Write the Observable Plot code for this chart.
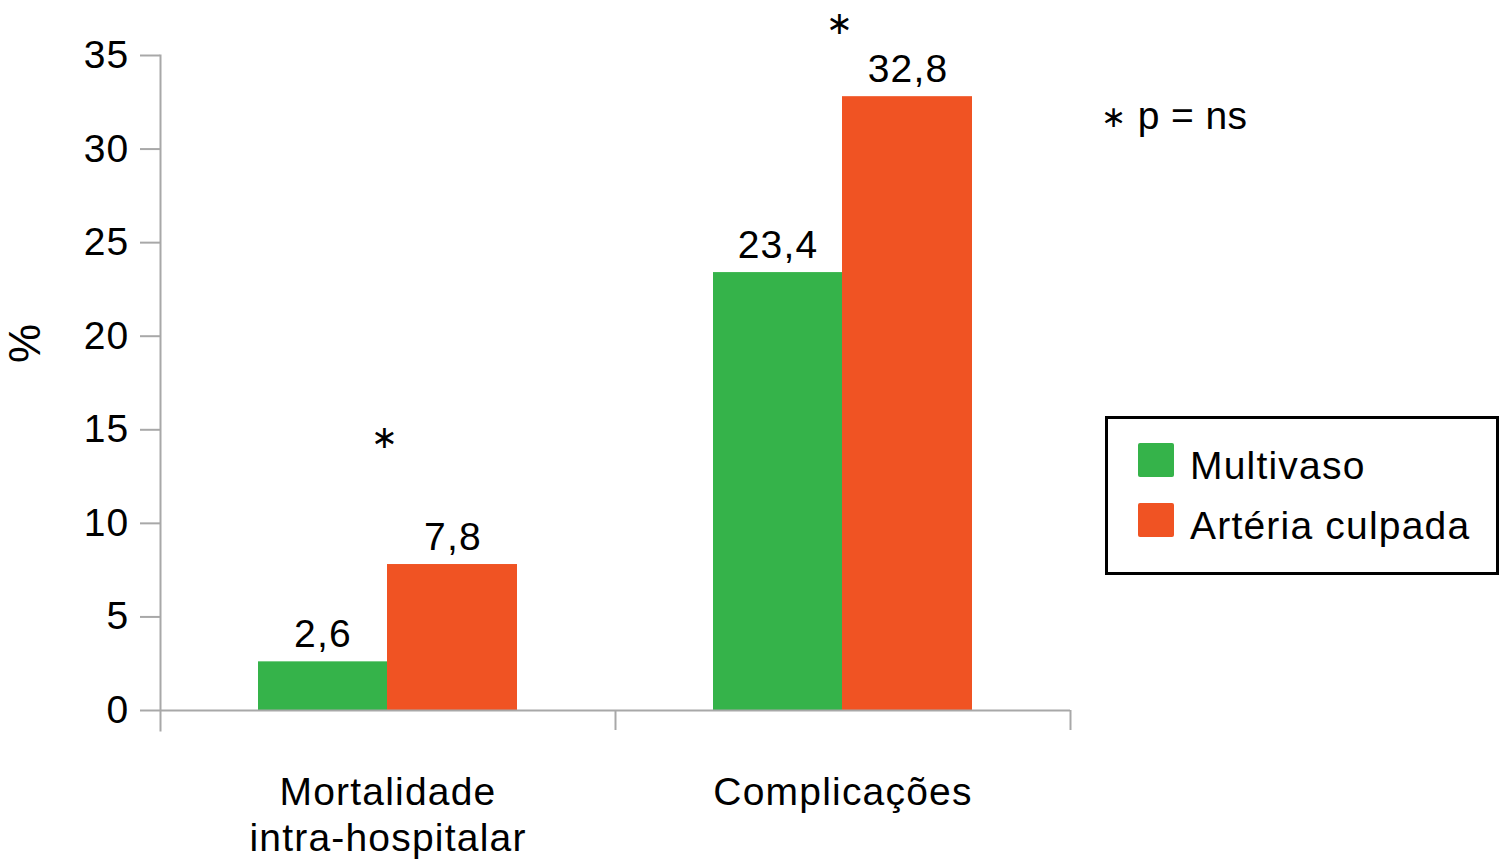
<!DOCTYPE html>
<html>
<head>
<meta charset="utf-8">
<script src="https://cdn.jsdelivr.net/npm/d3@7"></script>
<script src="https://cdn.jsdelivr.net/npm/@observablehq/plot@0.6"></script>
<style>
  html, body { margin: 0; padding: 0; background: #fff; }
  #wrap { position: relative; width: 1502px; height: 861px; font-family: "Liberation Sans", Arial, sans-serif; }
  #wrap svg { display: block; }
  #wrap svg text { letter-spacing: 1.2px; }
  .legend { position: absolute; left: 1105px; top: 416px; width: 394px; height: 159px; box-sizing: border-box; border: 3px solid #000; padding: 24px 0 0 30px; }
  .legend .row { display: flex; align-items: center; height: 34px; margin-bottom: 26px; }
  .legend .sw { width: 36px; height: 34px; border-radius: 2px; margin-right: 16px; }
  .legend .lab { font-size: 39px; letter-spacing: 1.2px; line-height: 34px; position: relative; top: 6px; color: #000; white-space: nowrap; }
  .note { position: absolute; left: 1101px; top: 98px; font-size: 39px; letter-spacing: 0.4px; line-height: 36px; color: #000; white-space: nowrap; }
  .note .ast { font-size: 30px; position: relative; top: -2px; }
</style>
</head>
<body>
<div id="wrap"></div>
<script>
// ---- data ----
const categories = ["Mortalidade\nintra-hospitalar", "Complicações"];
const seriesNames = ["Multivaso", "Artéria culpada"];
const multivaso = [2.6, 23.4];
const arteriaCulpada = [7.8, 32.8];
const asteriskLevels = [14.6, 36.7];
const yTicks = [0, 5, 10, 15, 20, 25, 30, 35];
const colors = ["#35b34a", "#f05323"];
const noteMark = "∗";
const noteText = " p = ns";
const yLabel = "%";

const fmt = v => String(v).replace(".", ",");
const seriesValues = [multivaso, arteriaCulpada];
const rows = [];
seriesNames.forEach((s, si) => categories.forEach((c, ci) => rows.push({category: c, series: s, value: seriesValues[si][ci]})));
const asterisks = categories.map((c, i) => ({category: c, value: asteriskLevels[i]}));

const font = "Liberation Sans, Arial, sans-serif";
const axisGray = "#a8a8a8";
// bar placement inside each category band (pixel insets, band = 455px)
const barInsets = [{insetLeft: 98, insetRight: 228}, {insetLeft: 227, insetRight: 98}];
const labelDx = [-65, 65];

const marks = [];
seriesNames.forEach((s, si) => {
  const data = rows.filter(d => d.series === s);
  marks.push(Plot.barY(data, {x: "category", y: "value", fill: colors[si], ...barInsets[si]}));
  marks.push(Plot.text(data, {x: "category", y: "value", text: d => fmt(d.value), dx: labelDx[si], dy: -15, lineAnchor: "bottom", fontSize: 39, fill: "#000"}));
});

const plot = Plot.plot({
  width: 1502,
  height: 861,
  marginLeft: 160,
  marginRight: 432,
  marginTop: 55,
  marginBottom: 151,
  style: {fontFamily: font, background: "#fff", color: "#000", overflow: "visible"},
  x: {domain: categories, padding: 0},
  y: {domain: [0, 35]},
  marks: [
    ...marks,
    Plot.ruleY([0], {stroke: axisGray, strokeWidth: 2}),
    Plot.frame({anchor: "left", stroke: axisGray, strokeWidth: 2, insetBottom: -20}),
    Plot.ruleX(categories, {x: d => d, y1: 0, y2: 0, insetBottom: -20, dx: 227.5, stroke: axisGray, strokeWidth: 2}),
    Plot.axisY({ticks: yTicks, tickSize: 20, tickPadding: 11, fontSize: 39, stroke: axisGray, strokeWidth: 2, fill: "#000", label: null}),
    Plot.axisX({tickSize: 0, tickPadding: 62, fontSize: 39, fill: "#000", label: null, lineHeight: 1.18}),
    Plot.text([yLabel], {frameAnchor: "left", text: d => d, rotate: -90, dx: -135, dy: -20, fontSize: 44, fill: "#000"}),
    Plot.text(asterisks, {x: "category", y: "value", text: () => "∗", dx: -3, fontSize: 32, fill: "#000", clip: false})
  ]
});

const wrap = document.getElementById("wrap");
wrap.appendChild(plot);

const note = document.createElement("div");
note.className = "note";
const ast = document.createElement("span");
ast.className = "ast";
ast.textContent = noteMark;
note.appendChild(ast);
note.appendChild(document.createTextNode(noteText));
wrap.appendChild(note);

const legend = document.createElement("div");
legend.className = "legend";
seriesNames.forEach((s, i) => {
  const row = document.createElement("div");
  row.className = "row";
  const sw = document.createElement("div");
  sw.className = "sw";
  sw.style.background = colors[i];
  const lab = document.createElement("span");
  lab.className = "lab";
  lab.textContent = s;
  row.appendChild(sw);
  row.appendChild(lab);
  legend.appendChild(row);
});
wrap.appendChild(legend);
</script>
</body>
</html>
